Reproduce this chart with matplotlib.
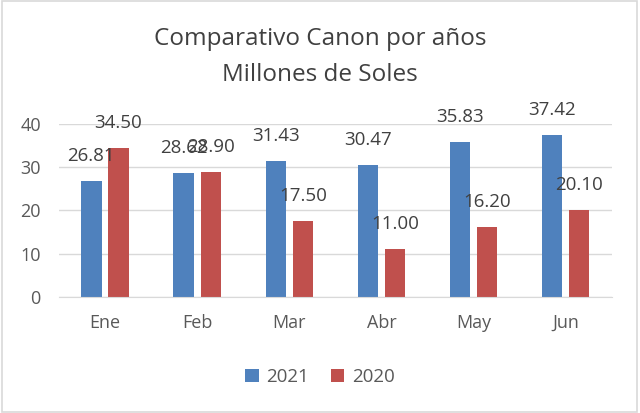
import matplotlib
matplotlib.use("Agg")
import matplotlib.pyplot as plt
import numpy as np
from matplotlib.patches import Rectangle

months = ["Ene", "Feb", "Mar", "Abr", "May", "Jun"]
canon_2021 = [26.81, 28.62, 31.43, 30.47, 35.83, 37.42]
canon_2020 = [34.50, 28.90, 17.50, 11.00, 16.20, 20.10]
series_names = ["2021", "2020"]

plt.rcParams["font.family"] = ["Open Sans", "DejaVu Sans"]

blue = "#4F81BD"
red = "#C0504D"
txt = "#404040"

fig = plt.figure(figsize=(6.4, 4.13), dpi=100)
ax = fig.add_axes([0.092, 0.281, 0.864, 0.419])

x = np.arange(len(months))
w = 0.22
off = 0.147
b1 = ax.bar(x - off, canon_2021, w, color=blue, label=series_names[0])
b2 = ax.bar(x + off, canon_2020, w, color=red, label=series_names[1])

# data labels sit well above the bars, as in the Excel original
for bars, vals in ((b1, canon_2021), (b2, canon_2020)):
    for r, v in zip(bars, vals):
        ax.annotate(f"{v:.2f}", (r.get_x() + r.get_width() / 2, v),
                    xytext=(0, 25), textcoords="offset pixels",
                    ha="center", va="center", fontsize=13.5, color=txt,
                    annotation_clip=False)

ax.set_ylim(0, 40)
ax.set_xlim(-0.5, len(months) - 0.5)
ax.set_yticks([0, 10, 20, 30, 40])
ax.set_xticks(x)
ax.set_xticklabels(months)
ax.yaxis.grid(True, color="#D9D9D9", lw=1)
ax.set_axisbelow(True)
for s in ("top", "right", "left"):
    ax.spines[s].set_visible(False)
ax.spines["bottom"].set_color("#D9D9D9")
ax.tick_params(axis="both", length=0, labelsize=13, labelcolor="#595959")
ax.tick_params(axis="x", pad=12)
ax.tick_params(axis="y", pad=13)

fig.text(0.5, 0.906, "Comparativo Canon por años", ha="center", va="center",
         fontsize=17.5, color=txt)
fig.text(0.5, 0.818, "Millones de Soles", ha="center", va="center",
         fontsize=17.5, color=txt)

fig.legend(handles=[b1, b2], loc="center", bbox_to_anchor=(0.5, 0.088),
           ncol=2, frameon=False, fontsize=13.5, handlelength=0.7,
           handleheight=0.7, handletextpad=0.4, columnspacing=1.2,
           labelcolor="#595959")

fig.patches.append(Rectangle((0.003, 0.003), 0.992, 0.994, transform=fig.transFigure,
                             fill=False, edgecolor="#D9D9D9", lw=1.2))

fig.savefig("out.png", dpi=100)
